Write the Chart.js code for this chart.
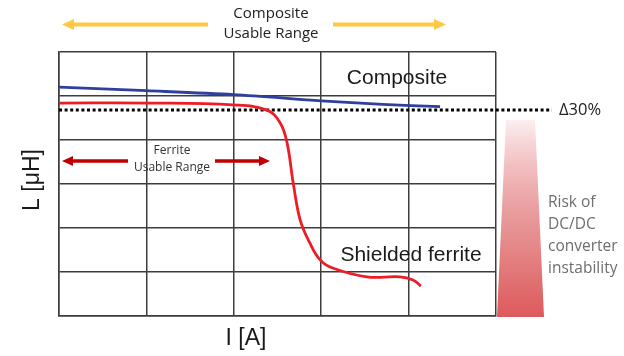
<!DOCTYPE html>
<html><head><meta charset="utf-8">
<script src="https://cdn.jsdelivr.net/npm/chart.js@4/dist/chart.umd.min.js"></script>
<style>html,body{margin:0;padding:0;background:#fff}#wrap{width:624px;height:356px}</style>
</head><body><div id="wrap"><canvas id="c" width="624" height="356"></canvas></div>
<script>
// Current (x, grid units) and inductance (y, grid units)
const compositeX = [0, 1, 2, 3, 3.7, 4.36];
const compositeY = [5.20, 5.12, 5.03, 4.89, 4.81, 4.76];
const ferriteX = [0, 1, 1.99, 2.38, 2.53, 2.61, 2.68, 2.76, 2.87, 2.99, 3.13, 3.52, 3.90, 4.05, 4.14];
const ferriteY = [4.84, 4.84, 4.80, 4.68, 4.39, 3.93, 3.02, 2.18, 1.66, 1.27, 1.09, 0.89, 0.89, 0.82, 0.68];
const limitX = [0, 5.64];
const limitY = [4.68, 4.68];
const xTicks = [0, 1, 2, 3, 4, 5];
const yTicks = [0, 1, 2, 3, 4, 5, 6];

const pts = (xs, ys) => xs.map((x, i) => ({x, y: ys[i]}));

function arrow(ctx, x1, x2, y, color, shaft, headLen, headH, dir) {
  ctx.save();
  ctx.fillStyle = color;
  if (dir < 0) {
    ctx.fillRect(x1 + headLen - 1, y - shaft / 2, x2 - x1 - headLen + 1, shaft);
    ctx.beginPath(); ctx.moveTo(x1, y); ctx.lineTo(x1 + headLen, y - headH / 2); ctx.lineTo(x1 + headLen, y + headH / 2); ctx.closePath(); ctx.fill();
  } else {
    ctx.fillRect(x1, y - shaft / 2, x2 - x1 - headLen + 1, shaft);
    ctx.beginPath(); ctx.moveTo(x2, y); ctx.lineTo(x2 - headLen, y - headH / 2); ctx.lineTo(x2 - headLen, y + headH / 2); ctx.closePath(); ctx.fill();
  }
  ctx.restore();
}

const annot = {
  id: 'annot',
  afterDraw(chart) {
    const ctx = chart.ctx;
    ctx.save();
    ctx.fillStyle = '#222'; ctx.textAlign = 'center'; ctx.textBaseline = 'middle';
    ctx.font = '15px "Open Sans"';
    ctx.fillText('Composite', 271, 14);
    ctx.fillText('Usable Range', 271, 34);
    arrow(ctx, 62, 208, 24.5, '#ffc845', 4, 12, 11, -1);
    arrow(ctx, 333, 446, 24.5, '#ffc845', 4, 12, 11, 1);
    ctx.fillStyle = '#333';
    ctx.font = '12px "Open Sans"';
    ctx.fillText('Ferrite', 172, 151);
    ctx.fillText('Usable Range', 172, 168);
    arrow(ctx, 62, 128, 161, '#c00000', 3.5, 11, 10, -1);
    arrow(ctx, 215, 270, 161, '#c00000', 3.5, 11, 10, 1);
    ctx.fillStyle = '#1a1a1a';
    ctx.font = '21px "Liberation Sans"';
    ctx.fillText('Composite', 397, 78);
    ctx.fillText('Shielded ferrite', 411, 255);
    ctx.font = '23px "Liberation Sans"';
    ctx.fillText('I [A]', 246, 339);
    ctx.save(); ctx.translate(33, 180); ctx.rotate(-Math.PI / 2); ctx.fillText('L [μH]', 0, 0); ctx.restore();
    ctx.fillStyle = '#222'; ctx.textAlign = 'left';
    ctx.font = '16.5px "Open Sans"';
    ctx.fillText('Δ30%', 559, 110.5);
    const g = ctx.createLinearGradient(0, 120, 0, 317);
    g.addColorStop(0, 'rgba(230,120,125,0.12)');
    g.addColorStop(0.5, '#e8999a');
    g.addColorStop(1, '#dd5a5b');
    ctx.fillStyle = g;
    ctx.beginPath(); ctx.moveTo(506, 120); ctx.lineTo(535, 120); ctx.lineTo(544, 317); ctx.lineTo(497, 317); ctx.closePath(); ctx.fill();
    ctx.fillStyle = '#6e6e6e';
    ctx.font = '15.5px "Open Sans"';
    ['Risk of', 'DC/DC', 'converter', 'instability'].forEach((t, i) => ctx.fillText(t, 548, 203 + i * 22));
    ctx.restore();
  }
};

new Chart(document.getElementById('c'), {
  type: 'line',
  data: {
    datasets: [
      {data: pts(limitX, limitY), borderColor: '#000', borderWidth: 3, borderDash: [3, 2.6], pointRadius: 0, clip: false, order: 3},
      {data: pts(ferriteX, ferriteY), borderColor: '#ee1c25', borderWidth: 2.8, pointRadius: 0, tension: 0.4, order: 2},
      {data: pts(compositeX, compositeY), borderColor: '#2e3fa0', borderWidth: 2.8, pointRadius: 0, tension: 0.3, order: 1}
    ]
  },
  options: {
    responsive: false, animation: false,
    layout: {padding: {left: 59, top: 52, right: 128, bottom: 40}},
    plugins: {legend: {display: false}, tooltip: {enabled: false}},
    scales: {
      x: {type: 'linear', min: xTicks[0], max: xTicks[xTicks.length - 1],
          afterBuildTicks: s => { s.ticks = xTicks.map(v => ({value: v})); },
          afterFit: s => { s.height = 0; },
          ticks: {display: false}, grid: {color: '#3d3d3d', lineWidth: 1.5, drawTicks: false},
          border: {color: '#3d3d3d', width: 1.5}},
      y: {type: 'linear', min: yTicks[0], max: yTicks[yTicks.length - 1],
          afterBuildTicks: s => { s.ticks = yTicks.map(v => ({value: v})); },
          afterFit: s => { s.width = 0; },
          ticks: {display: false}, grid: {color: '#3d3d3d', lineWidth: 1.5, drawTicks: false},
          border: {color: '#3d3d3d', width: 1.5}}
    }
  },
  plugins: [annot]
});
</script>
</body></html>
